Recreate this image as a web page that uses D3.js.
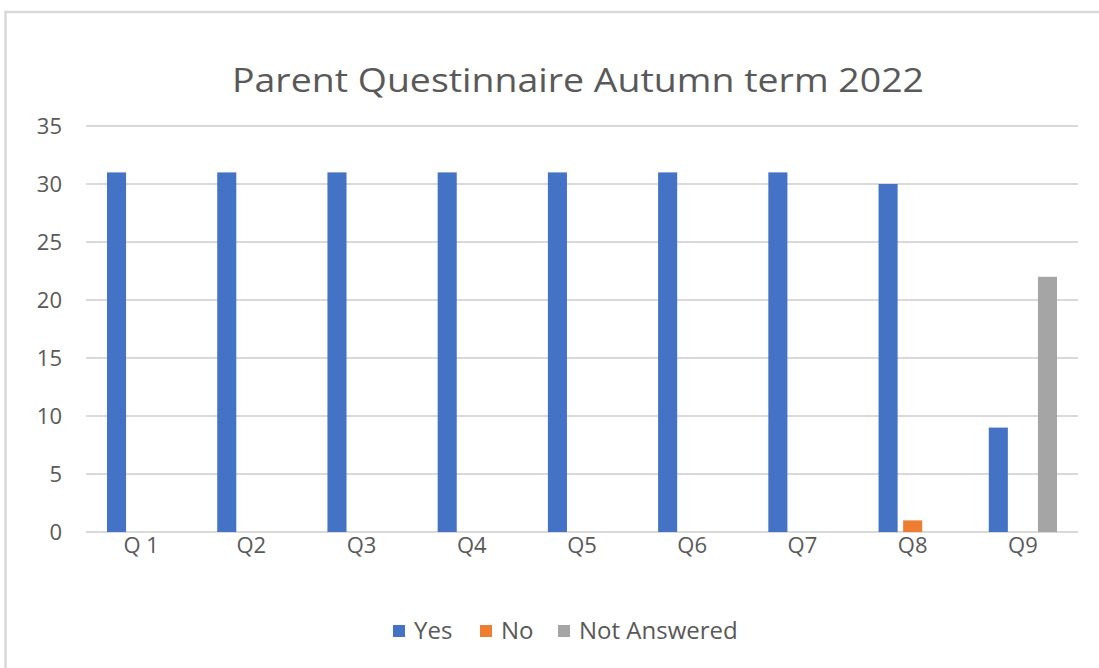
<!DOCTYPE html>
<html>
<head>
<meta charset="utf-8">
<script src="https://cdn.jsdelivr.net/npm/d3@7"></script>
<style>
  body { margin: 0; background: #fff; }
  text { font-family: "Open Sans", sans-serif; fill: #595959; }
</style>
</head>
<body>
<svg id="chart" width="1099" height="668"></svg>
<script>
// ---------------------------- DATA ----------------------------
const questions = ["Q 1", "Q2", "Q3", "Q4", "Q5", "Q6", "Q7", "Q8", "Q9"];
const seriesNames = ["Yes", "No", "Not Answered"];
const yesValues = [31, 31, 31, 31, 31, 31, 31, 30, 9];
const noValues = [0, 0, 0, 0, 0, 0, 0, 1, 0];
const notAnsweredValues = [0, 0, 0, 0, 0, 0, 0, 0, 22];
const yTicks = [0, 5, 10, 15, 20, 25, 30, 35];

const colours = ["#4472C4", "#ED7D31", "#A5A5A5"];
const seriesValues = [yesValues, noValues, notAnsweredValues];

// ---------------------------- SETUP ----------------------------
const svg = d3.select("#chart");
const plot = { left: 86, right: 1078, top: 126, bottom: 532 };

// Outer chart border (only top and left are inside the crop)
svg.append("rect")
    .attr("x", 5.5)
    .attr("y", 12)
    .attr("width", 1300)
    .attr("height", 1000)
    .attr("fill", "none")
    .attr("stroke", "#d9d9d9")
    .attr("stroke-width", 2.5);

const x0 = d3.scaleBand()
    .domain(questions)
    .range([plot.left, plot.right]);

const x1 = d3.scaleBand()
    .domain(seriesNames)
    .range([21, x0.bandwidth() - 21])
    .paddingInner(0.224);

const y = d3.scaleLinear()
    .domain([0, 35])
    .range([plot.bottom, plot.top]);

// Gridlines
svg.append("g")
    .selectAll("line")
    .data(yTicks)
    .enter()
    .append("line")
    .attr("x1", plot.left)
    .attr("x2", plot.right)
    .attr("y1", d => y(d))
    .attr("y2", d => y(d))
    .attr("stroke", "#d9d9d9")
    .attr("stroke-width", 2);

// Y labels
svg.append("g")
    .selectAll("text")
    .data(yTicks)
    .enter()
    .append("text")
    .attr("x", 62)
    .attr("y", d => y(d) + 8)
    .attr("text-anchor", "end")
    .style("font-size", "22px")
    .text(d => d);

// Bars
const groups = svg.append("g")
    .selectAll("g")
    .data(questions)
    .enter()
    .append("g")
    .attr("transform", d => "translate(" + x0(d) + ",0)");

groups.selectAll("rect")
    .data((d, i) => seriesNames.map((s, j) => ({ series: s, value: seriesValues[j][i], colour: colours[j] })))
    .enter()
    .filter(d => d.value > 0)
    .append("rect")
    .attr("x", d => x1(d.series))
    .attr("width", x1.bandwidth())
    .attr("y", d => y(d.value))
    .attr("height", d => y(0) - y(d.value))
    .attr("fill", d => d.colour);

// X labels
svg.append("g")
    .selectAll("text")
    .data(questions)
    .enter()
    .append("text")
    .attr("x", d => x0(d) + x0.bandwidth() / 2)
    .attr("y", 553)
    .attr("text-anchor", "middle")
    .style("font-size", "22px")
    .text(d => d);

// Title
svg.append("text")
    .attr("x", 578)
    .attr("y", 92)
    .attr("text-anchor", "middle")
    .attr("textLength", 692)
    .attr("lengthAdjust", "spacingAndGlyphs")
    .style("font-size", "33px")
    .text("Parent Questinnaire Autumn term 2022");

// Legend
const legendX = [393, 480, 558];
const legend = svg.append("g")
    .selectAll("g")
    .data(seriesNames)
    .enter()
    .append("g")
    .attr("transform", (d, i) => "translate(" + legendX[i] + ",625)");

legend.append("rect")
    .attr("width", 12)
    .attr("height", 12)
    .attr("fill", (d, i) => colours[i]);

legend.append("text")
    .attr("x", 21)
    .attr("y", 14)
    .style("font-size", "24px")
    .text(d => d);
</script>
</body>
</html>
